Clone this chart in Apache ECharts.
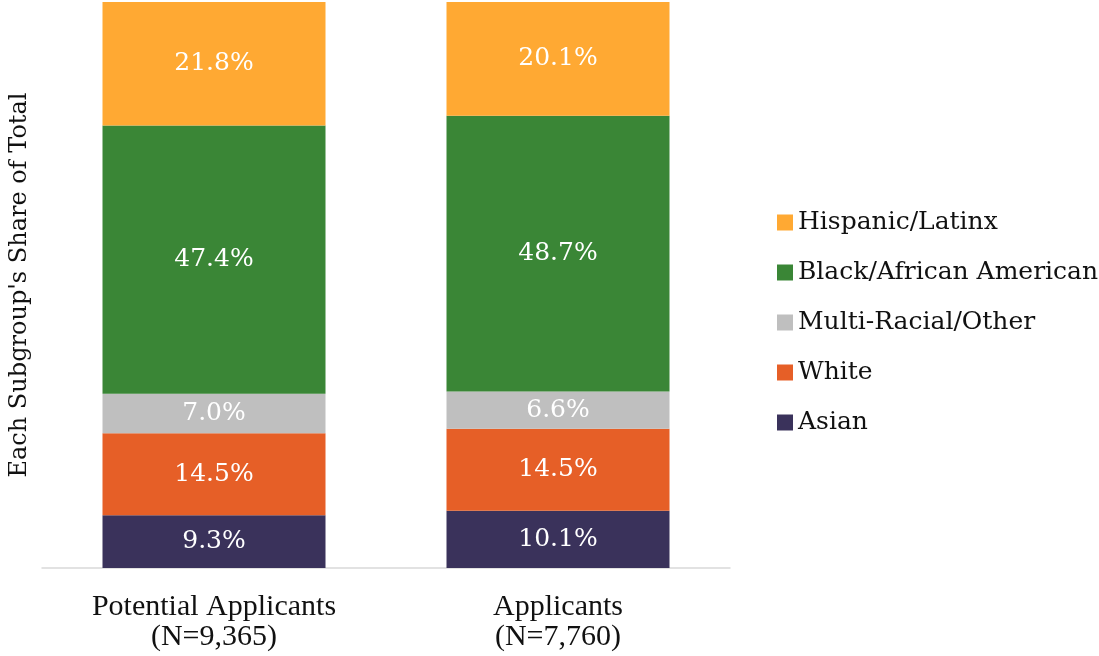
<!DOCTYPE html>
<html>
<head>
<meta charset="utf-8">
<script src="https://cdn.jsdelivr.net/npm/echarts@6/dist/echarts.min.js"></script>
<style>
  html, body { margin: 0; padding: 0; background: #fff; }
  #chart { width: 1099px; height: 656px; }
</style>
</head>
<body>
<div id="chart"></div>
<script>
var categories = ['Potential Applicants\n(N=9,365)', 'Applicants\n(N=7,760)']
var groups = ['Asian', 'White', 'Multi-Racial/Other', 'Black/African American', 'Hispanic/Latinx']
var asian = [9.3, 10.1]
var white = [14.5, 14.5]
var multiRacial = [7.0, 6.6]
var black = [47.4, 48.7]
var hispanic = [21.8, 20.1]

var colors = ['#3A325B', '#E65F27', '#BFBFBF', '#3A8636', '#FFA933']
var values = [asian, white, multiRacial, black, hispanic]
var font = 'DejaVu Serif'

function entry() {
  var chart = echarts.init(document.getElementById('chart'))

  var series = groups.map(function (name, i) {
    return {
      name: name,
      type: 'bar',
      stack: 'total',
      barWidth: 223,
      itemStyle: { color: colors[i] },
      label: {
        show: true,
        position: 'inside',
        color: '#fff',
        fontFamily: font,
        fontSize: 25,
        formatter: function (p) { return p.value.toFixed(1) + '%' }
      },
      data: values[i]
    }
  })

  chart.setOption({
    animation: false,
    grid: { left: 40, right: 369, top: 2, bottom: 88 },
    legend: {
      orient: 'vertical',
      left: 772,
      top: 205,
      itemWidth: 16,
      itemHeight: 16,
      itemGap: 25,
      icon: 'rect',
      data: groups.slice().reverse(),
      textStyle: { fontFamily: font, fontSize: 25, color: '#111' }
    },
    xAxis: {
      type: 'category',
      data: categories,
      axisLine: { lineStyle: { color: '#D9D9D9', width: 1.5 } },
      axisTick: { show: false },
      axisLabel: {
        fontFamily: 'Liberation Serif',
        fontSize: 30,
        color: '#111',
        lineHeight: 30,
        margin: 24
      }
    },
    yAxis: {
      type: 'value',
      min: 0,
      max: 100,
      name: "Each Subgroup's Share of Total",
      nameLocation: 'middle',
      nameGap: 10,
      nameTextStyle: { fontFamily: font, fontSize: 24, color: '#111' },
      axisLabel: { show: false },
      axisLine: { show: false },
      axisTick: { show: false },
      splitLine: { show: false }
    },
    series: series
  })
}

entry()
</script>
</body>
</html>
